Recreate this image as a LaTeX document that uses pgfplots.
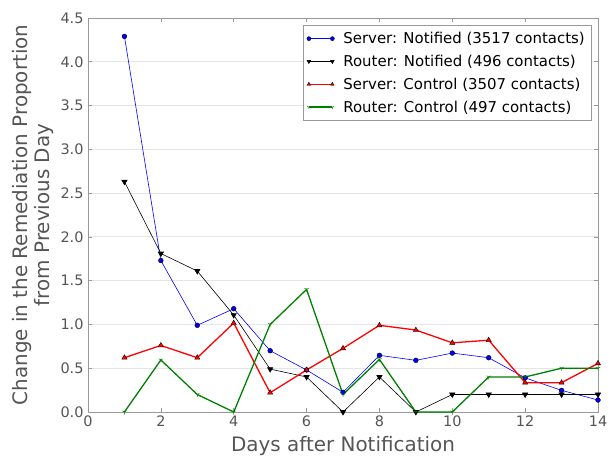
\documentclass[border=0pt]{standalone}
\usepackage{pgfplots}
\pgfplotsset{compat=1.18}
\usepackage{fontspec}
\setmainfont{DejaVu Sans}
\usetikzlibrary{plotmarks}
\definecolor{txtgray}{HTML}{555555}
\definecolor{axgray}{HTML}{999999}
\definecolor{gridgray}{HTML}{E5E5E5}
\definecolor{mplgreen}{HTML}{008000}
\begin{document}
\begin{tikzpicture}
\begin{axis}[
  scale only axis,
  width=510bp, height=394bp,
  xmin=0, xmax=14, ymin=0, ymax=4.5,
  xtick={0,2,...,14},
  ytick={0,0.5,...,4.5},
  yticklabel style={/pgf/number format/fixed, /pgf/number format/fixed zerofill, /pgf/number format/precision=1, /tikz/xshift=-1bp},
  /pgf/number format/assume math mode=true,
  tick label style={font=\fontsize{14.5}{17}\selectfont, text=txtgray},
  label style={font=\fontsize{20}{22.5}\selectfont, text=txtgray},
  xlabel={Days after Notification},
  xlabel style={yshift=-3bp},
  ylabel={Change in the Remediation Proportion\\from Previous Day},
  ylabel style={align=center, at={([xshift=-34bp]axis description cs:0,0.5)}, anchor=south, inner sep=0pt},
  axis line style={axgray},
  major tick style={axgray, line width=0.6pt},
  major tick length=4bp,
  ymajorgrids,
  grid style={gridgray, line width=0.8pt},
  legend cell align=left,
  legend style={at={(1,1)}, anchor=north east, xshift=-7bp, yshift=-7bp,
    draw=axgray, font=\fontsize{15}{17.5}\selectfont, text=black,
    row sep=6bp, inner xsep=4bp, inner ysep=5bp,
    /tikz/every odd column/.append style={column sep=7bp}},
  legend image code/.code={%
    \draw[#1, mark=none] (0.5bp,0bp) -- (24bp,0bp);
    \draw[#1, mark size=2bp, mark indices={1,2}] plot coordinates {(0.5bp,0bp) (24bp,0bp)};},
]
\addplot[blue, line width=0.6pt, mark=*, mark size=2.4bp, mark options={fill=blue, draw=black, line width=0.4pt}]
coordinates {(1,4.29) (2,1.73) (3,0.99) (4,1.18) (5,0.70) (6,0.48) (7,0.225) (8,0.647) (9,0.59) (10,0.673) (11,0.62) (12,0.39) (13,0.247) (14,0.137)};
\addlegendentry{Server: Notified (3517 contacts)}
\addplot[black, line width=0.6pt, mark=triangle*, mark size=3bp, mark options={rotate=180, fill=black}]
coordinates {(1,2.63) (2,1.81) (3,1.61) (4,1.107) (5,0.49) (6,0.40) (7,0) (8,0.40) (9,0) (10,0.2) (11,0.2) (12,0.2) (13,0.2) (14,0.2)};
\addlegendentry{Router: Notified (496 contacts)}
\addplot[red, line width=1.3pt, mark=triangle*, mark size=3bp, mark options={fill=red, draw=black, line width=0.4pt}]
coordinates {(1,0.62) (2,0.76) (3,0.62) (4,1.016) (5,0.22) (6,0.48) (7,0.727) (8,0.99) (9,0.936) (10,0.79) (11,0.82) (12,0.335) (13,0.335) (14,0.555)};
\addlegendentry{Server: Control (3507 contacts)}
\addplot[mplgreen, line width=1.3pt, mark=Mercedes star flipped, mark size=2.5bp, mark options={line width=0.5pt}]
coordinates {(1,0) (2,0.594) (3,0.2) (4,0) (5,1.0) (6,1.40) (7,0.2) (8,0.6) (9,0) (10,0) (11,0.4) (12,0.4) (13,0.5) (14,0.5)};
\addlegendentry{Router: Control (497 contacts)}
\end{axis}
\pgfresetboundingbox
\path[use as bounding box] ([shift={(-88bp,-44bp)}]current axis.south west) rectangle ([shift={(15bp,18bp)}]current axis.north east);
\end{tikzpicture}
\end{document}
